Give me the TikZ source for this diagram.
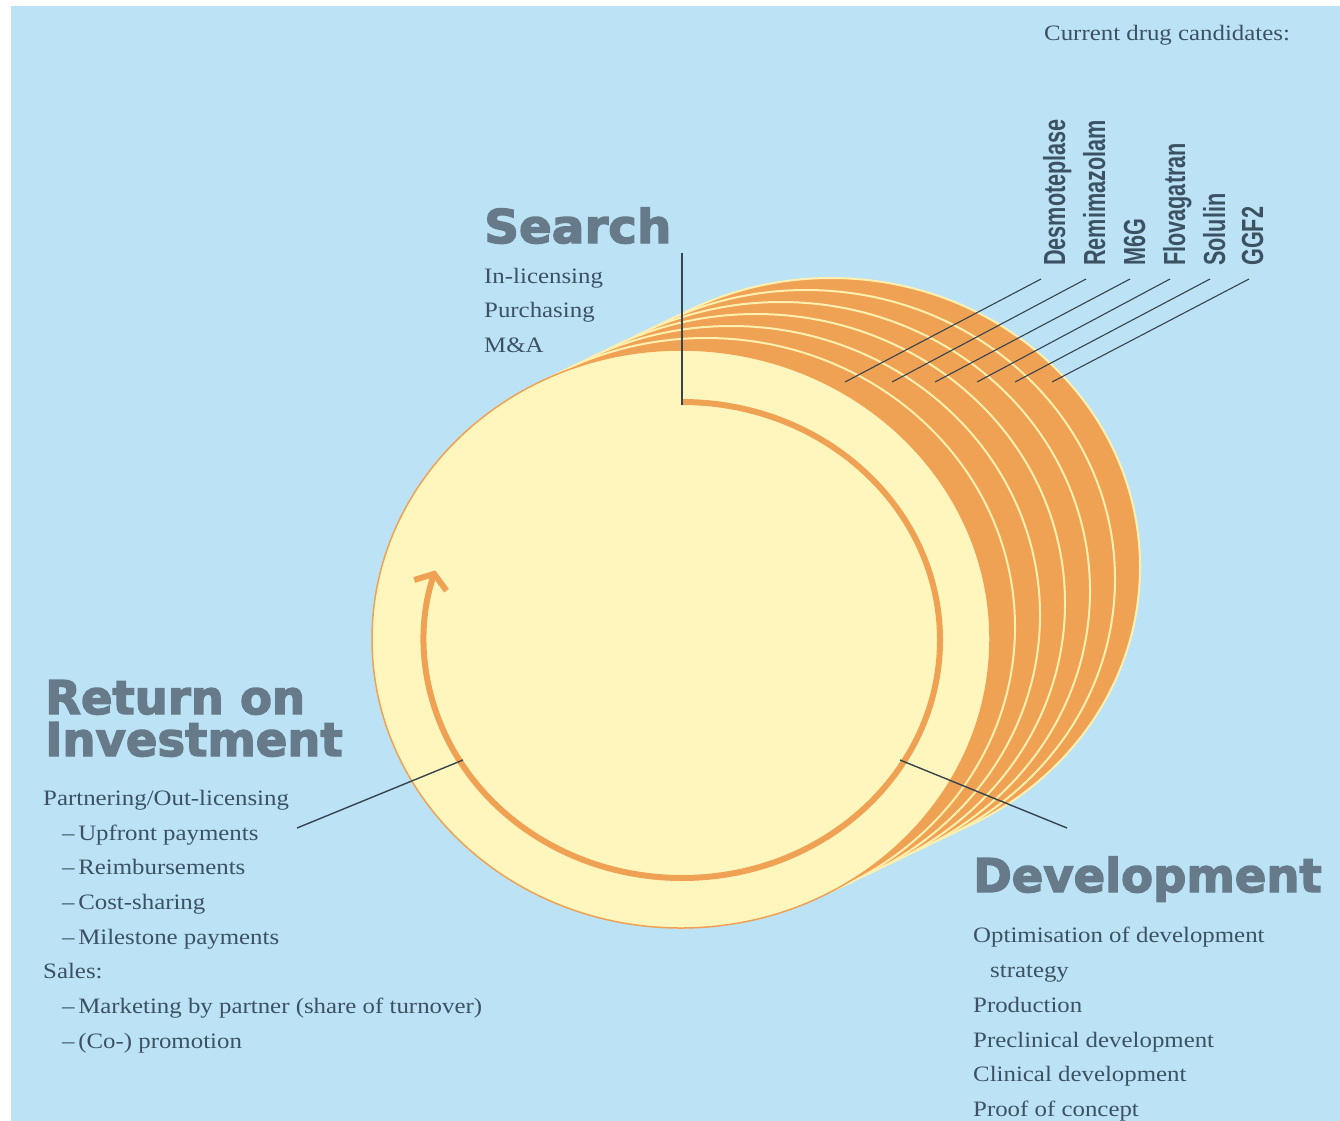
\documentclass[tikz,border=0pt]{standalone}
\usepackage{fontspec}
\usetikzlibrary{arrows.meta}
\newfontfamily\bodyfont{Liberation Serif}[FakeStretch=1.13]
\newfontfamily\headfont{DejaVu Sans}[BoldFeatures={FakeBold=3}]
\newfontfamily\drugfont{Liberation Sans}[FakeStretch=0.71]
\definecolor{bg}{RGB}{187,227,245}
\definecolor{disk}{RGB}{255,246,190}
\definecolor{orng}{RGB}{240,162,84}
\definecolor{cream}{RGB}{255,240,175}
\definecolor{head}{RGB}{102,122,137}
\definecolor{txt}{RGB}{60,82,98}
\definecolor{lead}{RGB}{55,68,78}
\begin{document}
\begin{tikzpicture}[x=1pt,y=-1pt,
  body/.style={anchor=base west, inner sep=0pt, text=txt, font=\bodyfont\fontsize{22}{26}\selectfont},
  heading/.style={anchor=base west, inner sep=0pt, text=head, font=\headfont\bfseries\fontsize{46.5}{50}\selectfont},
  drug/.style={anchor=base west, rotate=90, inner sep=0pt, text=txt, font=\drugfont\bfseries\fontsize{30.5}{32}\selectfont},
  leader/.style={draw=lead, line width=1.4pt},
  backdisk/.style={fill=orng, draw=cream, line width=2pt},
  frontdisk/.style={fill=disk, draw=orng, line width=1.5pt},
  cyclearrow/.style={draw=orng, line width=6pt, -{Straight Barb[length=12pt,width=34pt]}}
]
\useasboundingbox (0,0) rectangle (1340,1120);
\fill[white] (-5,-5) rectangle (1345,1125);
\fill[bg] (11,6) rectangle (1345,1125);

% stack of disks
\foreach \k in {6,5,...,1}
  \path[backdisk] ({681+25*\k},{639-12*\k}) ellipse [x radius=309, y radius=289];
\path[frontdisk] (681,639) ellipse [x radius=309, y radius=289];

% cycle arrow
\draw[cyclearrow] (682,402) arc[start angle=-90, end angle=197, x radius=258, y radius=238];

% headings
\node[heading] (search) at (484,243) {\scalebox{1.04}[1]{Search}};
\node[heading] (roi1) at (45,714) {Return on};
\node[heading] (roi2) at (45,756) {Investment};
\node[heading] (dev) at (973,892) {Development};

% search list
\node[body] (s1) at (484,283) {In-licensing};
\node[body] (s2) at (484,317) {Purchasing};
\node[body] (s3) at (484,352) {M\&A};

% return list
\node[body] (r1) at (43,805) {Partnering/Out-licensing};
\node[body] (r2) at (62,840) {–\,Upfront payments};
\node[body] (r3) at (62,874) {–\,Reimbursements};
\node[body] (r4) at (62,909) {–\,Cost-sharing};
\node[body] (r5) at (62,944) {–\,Milestone payments};
\node[body] (r6) at (43,978) {Sales:};
\node[body] (r7) at (62,1013) {–\,Marketing by partner (share of turnover)};
\node[body] (r8) at (62,1048) {–\,(Co-) promotion};

% development list
\node[body] (d1) at (973,942) {Optimisation of development};
\node[body] (d2) at (990,977) {strategy};
\node[body] (d3) at (973,1012) {Production};
\node[body] (d4) at (973,1047) {Preclinical development};
\node[body] (d5) at (973,1081) {Clinical development};
\node[body] (d6) at (973,1116) {Proof of concept};

\node[body] (cur) at (1044,40) {Current drug candidates:};

% leader lines of the three phases
\coordinate (searchTop) at (682,253);
\coordinate (searchEnd) at (682,405);
\coordinate (roiStart) at (297,828);
\coordinate (roiEnd) at (463,760);
\coordinate (devStart) at (900,760);
\coordinate (devEnd) at (1067,828);
\draw[leader] (searchTop) -- (searchEnd);
\draw[leader] (roiStart) -- (roiEnd);
\draw[leader] (devStart) -- (devEnd);

% drug candidates
\foreach \nm/\bx/\lx/\ex [count=\i] in {Desmoteplase/1065/1041/845, Remimazolam/1105/1086/892, M6G/1145/1130/935, Flovagatran/1185/1170/977, Solulin/1225/1210/1015, GGF2/1263/1249/1052} {
  \node[drug] (drug\i) at (\bx,266) {\nm};
  \coordinate (dtop\i) at (\lx,279);
  \coordinate (dend\i) at (\ex,382);
  \draw[leader, line width=1.1pt] (dtop\i) -- (dend\i);
}
\end{tikzpicture}
\end{document}
